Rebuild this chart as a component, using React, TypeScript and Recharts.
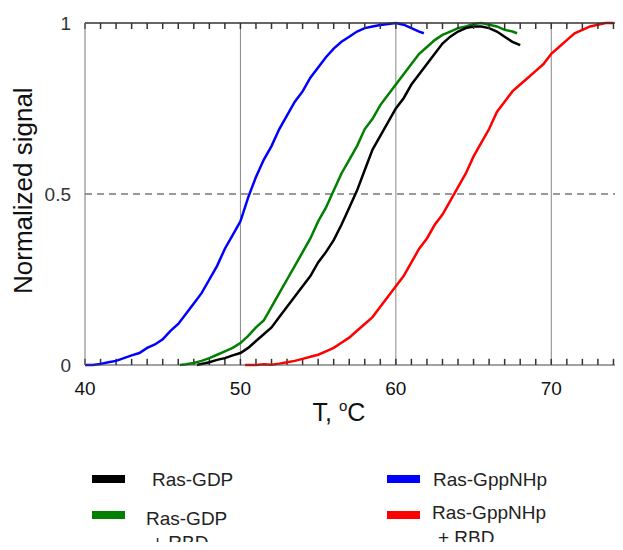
import { LineChart, Line, XAxis, YAxis, ReferenceLine } from "recharts";

const xTicks = [40, 41, 42, 43, 44, 45, 46, 47, 48, 49, 50, 51, 52, 53, 54, 55, 56, 57, 58, 59, 60, 61, 62, 63, 64, 65, 66, 67, 68, 69, 70, 71, 72, 73, 74];
const xLabels = [40, 50, 60, 70];
const yTicks = [0, 0.5, 1];

const gdpT = [47.2, 47.5, 48, 48.5, 49, 49.5, 50, 50.5, 51, 51.5, 52, 52.5, 53, 53.5, 54, 54.5, 55, 55.5, 56, 56.5, 57, 57.5, 58, 58.5, 59, 59.5, 60, 60.5, 61, 61.5, 62, 62.5, 63, 63.5, 64, 64.5, 65, 65.5, 66, 66.5, 67, 67.5, 68];
const gdpV = [0, 0.003, 0.008, 0.015, 0.02, 0.028, 0.035, 0.05, 0.07, 0.09, 0.11, 0.14, 0.17, 0.2, 0.23, 0.26, 0.3, 0.33, 0.365, 0.41, 0.46, 0.51, 0.57, 0.63, 0.67, 0.71, 0.75, 0.78, 0.82, 0.85, 0.88, 0.91, 0.94, 0.96, 0.975, 0.985, 0.99, 0.99, 0.985, 0.975, 0.96, 0.945, 0.935];

const gdpRbdT = [46.1, 46.5, 47, 47.5, 48, 48.5, 49, 49.5, 50, 50.5, 51, 51.5, 52, 52.5, 53, 53.5, 54, 54.5, 55, 55.5, 56, 56.5, 57, 57.5, 58, 58.5, 59, 59.5, 60, 60.5, 61, 61.5, 62, 62.5, 63, 63.5, 64, 64.5, 65, 65.5, 66, 66.5, 67, 67.5, 67.8];
const gdpRbdV = [0, 0.002, 0.006, 0.012, 0.02, 0.03, 0.04, 0.05, 0.064, 0.085, 0.11, 0.13, 0.17, 0.21, 0.25, 0.29, 0.33, 0.37, 0.42, 0.46, 0.51, 0.56, 0.6, 0.64, 0.69, 0.72, 0.76, 0.79, 0.82, 0.85, 0.88, 0.91, 0.93, 0.95, 0.965, 0.975, 0.985, 0.99, 0.997, 1.0, 0.995, 0.99, 0.98, 0.975, 0.97];

const gnpT = [40, 40.5, 41, 41.5, 42, 42.5, 43, 43.5, 44, 44.5, 45, 45.5, 46, 46.5, 47, 47.5, 48, 48.5, 49, 49.5, 50, 50.5, 51, 51.5, 52, 52.5, 53, 53.5, 54, 54.5, 55, 55.5, 56, 56.5, 57, 57.5, 58, 58.5, 59, 59.5, 60, 60.5, 61, 61.5, 61.8];
const gnpV = [0, 0, 0.003, 0.008, 0.012, 0.02, 0.028, 0.035, 0.05, 0.06, 0.075, 0.1, 0.12, 0.15, 0.18, 0.21, 0.25, 0.29, 0.34, 0.38, 0.42, 0.49, 0.55, 0.6, 0.64, 0.69, 0.73, 0.77, 0.8, 0.84, 0.87, 0.9, 0.925, 0.945, 0.96, 0.975, 0.985, 0.99, 0.994, 0.997, 1.0, 0.995, 0.985, 0.975, 0.97];

const gnpRbdT = [50.3, 51, 51.5, 52, 52.5, 53, 53.5, 54, 54.5, 55, 55.5, 56, 56.5, 57, 57.5, 58, 58.5, 59, 59.5, 60, 60.5, 61, 61.5, 62, 62.5, 63, 63.5, 64, 64.5, 65, 65.5, 66, 66.5, 67, 67.5, 68, 68.5, 69, 69.5, 70, 70.5, 71, 71.5, 72, 72.5, 73, 73.5, 74];
const gnpRbdV = [0, 0, 0.002, 0.001, 0.004, 0.008, 0.012, 0.018, 0.024, 0.03, 0.04, 0.05, 0.065, 0.08, 0.1, 0.12, 0.14, 0.17, 0.2, 0.23, 0.26, 0.3, 0.34, 0.37, 0.41, 0.44, 0.48, 0.52, 0.56, 0.61, 0.65, 0.69, 0.74, 0.77, 0.8, 0.82, 0.84, 0.86, 0.88, 0.91, 0.93, 0.95, 0.97, 0.98, 0.99, 0.995, 1.0, 1.0];

const toPoints = (ts: number[], vs: number[]) => ts.map((t, i) => ({ t, v: vs[i] }));

const font = "'Liberation Sans', Arial, Helvetica, sans-serif";

const BottomTick = (props: any) => {
  const { x, y, payload } = props;
  if (!xLabels.includes(payload.value)) return <g />;
  return (
    <text x={x} y={y + 22} textAnchor="middle" fontSize={19} fill="#111" fontFamily={font}>
      {payload.value}
    </text>
  );
};

const XTitle = (props: any) => {
  const { viewBox } = props;
  const cx = viewBox.x + viewBox.width / 2 - 18;
  return (
    <text x={cx} y={viewBox.y + 56} textAnchor="middle" fontSize={25} fill="#111" fontFamily={font}>
      T,{" "}
      <tspan fontSize={15} dy={-10}>o</tspan>
      <tspan dy={10}>C</tspan>
    </text>
  );
};

const legendItems = [
  { color: "#000000", lines: ["Ras-GDP"], left: 92, top: 479, textLeft: 152, textTops: [469] },
  { color: "#007f00", lines: ["Ras-GDP", "+ RBD"], left: 92, top: 515, textLeft: 146, textTops: [508, 532] },
  { color: "#0000ff", lines: ["Ras-GppNHp"], left: 387, top: 479, textLeft: 433, textTops: [469] },
  { color: "#ff0000", lines: ["Ras-GppNHp", "+ RBD"], left: 387, top: 515, textLeft: 432, textTops: [502, 527] },
];

export default function App() {
  return (
    <div style={{ position: "relative", width: 623, height: 550, margin: -8, overflow: "hidden", background: "#fff", fontFamily: font }}>
      <LineChart width={640} height={550} margin={{ top: 23, right: 11, bottom: 125, left: 0 }}>
        <XAxis
          dataKey="t"
          type="number"
          domain={[40, 75]}
          ticks={xTicks}
          interval={0}
          height={60}
          stroke="#444"
          tickSize={0}
          tickMargin={8}
          tick={<BottomTick />}
          label={<XTitle />}
        />
        <XAxis
          xAxisId="top"
          orientation="top"
          dataKey="t"
          type="number"
          domain={[40, 75]}
          ticks={xTicks}
          interval={0}
          mirror
          height={5}
          tickSize={6}
          stroke="#333"
          strokeWidth={1.5}
          tickFormatter={() => ""}
        />
        <YAxis
          type="number"
          domain={[0, 1]}
          ticks={yTicks}
          width={85}
          tickLine={false}
          stroke="#777"
          tick={{ fontSize: 19, fill: "#333", fontFamily: font }}
          tickMargin={8}
          label={{
            value: "Normalized signal",
            angle: -90,
            position: "insideLeft",
            dx: 18,
            dy: 100,
            style: { fontSize: 26, fill: "#111", fontFamily: font },
          }}
        />
        <ReferenceLine x={50} stroke="#888" />
        <ReferenceLine x={60} stroke="#888" />
        <ReferenceLine x={70} stroke="#888" />
        <ReferenceLine y={0.5} stroke="#333" strokeDasharray="7 5" />
        {xTicks.map((t) => (
          <ReferenceLine key={`b${t}`} segment={[{ x: t, y: 0 }, { x: t, y: 0.018 }]} stroke="#333" strokeWidth={1.5} />
        ))}
        <Line data={toPoints(gnpT, gnpV)} dataKey="v" stroke="#0000ff" strokeWidth={2.5} dot={false} type="linear" isAnimationActive={false} />
        <Line data={toPoints(gdpRbdT, gdpRbdV)} dataKey="v" stroke="#007f00" strokeWidth={2.5} dot={false} type="linear" isAnimationActive={false} />
        <Line data={toPoints(gdpT, gdpV)} dataKey="v" stroke="#000000" strokeWidth={2.5} dot={false} type="linear" isAnimationActive={false} />
        <Line xAxisId="top" data={toPoints(gnpRbdT, gnpRbdV)} dataKey="v" stroke="#ff0000" strokeWidth={2.5} dot={false} type="linear" isAnimationActive={false} />
      </LineChart>
      {legendItems.map((item) => (
        <div key={item.color}>
          <div style={{ position: "absolute", left: item.left, top: item.top - 4, width: 33, height: 8, background: item.color }} />
          {item.lines.map((ln, i) => (
            <div
              key={ln}
              style={{
                position: "absolute",
                left: item.textLeft + (i === 1 ? 6 : 0),
                top: item.textTops[i],
                fontSize: 19,
                lineHeight: "22px",
                color: "#222",
                whiteSpace: "nowrap",
              }}
            >
              {ln}
            </div>
          ))}
        </div>
      ))}
    </div>
  );
}
